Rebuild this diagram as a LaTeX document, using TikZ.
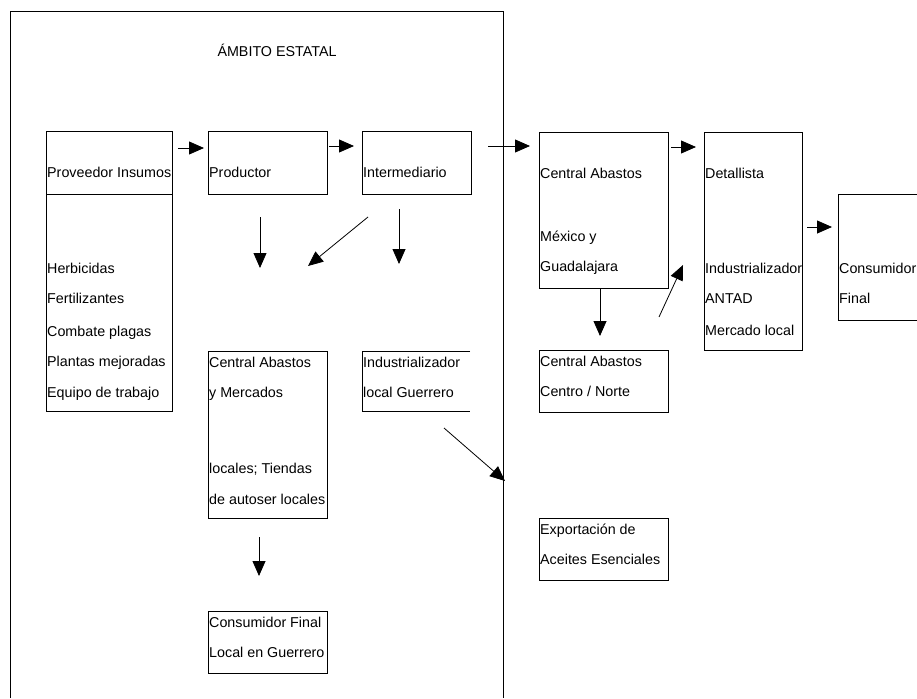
\documentclass[tikz,border=0pt]{standalone}
\usepackage{fontspec}
\setmainfont{Liberation Sans}
\usetikzlibrary{arrows.meta}
\begin{document}
\begin{tikzpicture}[x=1pt,y=-1pt,
  box/.style={draw, line width=0.8pt, inner sep=0pt, anchor=north west},
  txt/.style={anchor=west, inner sep=0pt, font=\fontsize{14.3}{16}\selectfont, text height=10pt, text depth=3pt, yshift=-1.5pt},
  arr/.style={line width=0.8pt, -{Triangle[length=15pt,width=13pt]}}]
\useasboundingbox (0,0) rectangle (917,698);
% frame
\draw[line width=0.8pt] (10,698) -- (10,11) -- (503,11) -- (503,698);
\node[txt, anchor=center] (title) at (277,52) {ÁMBITO ESTATAL};
% boxes
\node[box, minimum width=126pt, minimum height=63pt] (prov) at (46,131) {};
\node[box, minimum width=126pt, minimum height=217pt] (provlist) at (46,194) {};
\node[box, minimum width=119pt, minimum height=63pt] (prod) at (208,131) {};
\node[box, minimum width=109pt, minimum height=63pt] (inter) at (362,131) {};
\node[box, minimum width=119pt, minimum height=167pt] (cam) at (208,351) {};
\coordinate (indTR) at (470,351);
\coordinate (indTL) at (362,351);
\coordinate (indBL) at (362,411);
\coordinate (indBR) at (470,411);
\draw[line width=0.8pt] (indTR) -- (indTL) -- (indBL) -- (indBR);
\node[box, minimum width=119pt, minimum height=62pt] (cfl) at (208,611) {};
\node[box, minimum width=129pt, minimum height=156pt] (cab) at (539,132) {};
\node[box, minimum width=98pt, minimum height=218pt] (det) at (704,132) {};
\node[box, minimum width=78.5pt, minimum height=126pt] (cons) at (838,194) {};
\node[box, minimum width=129pt, minimum height=62pt] (can) at (539,350) {};
\node[box, minimum width=129pt, minimum height=62pt] (exp) at (539,518) {};
% texts
\node[txt] (t1) at (47,172) {Proveedor Insumos};
\node[txt] (t2) at (47,268) {Herbicidas};
\node[txt] (t3) at (47,298) {Fertilizantes};
\node[txt] (t4) at (47,331) {Combate plagas};
\node[txt] (t5) at (47,361) {Plantas mejoradas};
\node[txt] (t6) at (47,392) {Equipo de trabajo};
\node[txt] (t7) at (209,172) {Productor};
\node[txt] (t8) at (363,172) {Intermediario};
\node[txt] (t9) at (209,362) {Central Abastos};
\node[txt] (t10) at (209,392) {y Mercados};
\node[txt] (t11) at (209,468) {locales; Tiendas};
\node[txt] (t12) at (209,499) {de autoser locales};
\node[txt] (t13) at (363,362) {Industrializador};
\node[txt] (t14) at (363,392) {local Guerrero};
\node[txt] (t15) at (209,622) {Consumidor Final};
\node[txt] (t16) at (209,652) {Local en Guerrero};
\node[txt] (t17) at (540,173) {Central Abastos};
\node[txt] (t18) at (540,236) {México y};
\node[txt] (t19) at (540,266) {Guadalajara};
\node[txt] (t20) at (705,173) {Detallista};
\node[txt] (t21) at (705,268) {Industrializador};
\node[txt] (t22) at (705,298) {ANTAD};
\node[txt] (t23) at (705,330) {Mercado local};
\node[txt] (t24) at (839,268) {Consumidor};
\node[txt] (t25) at (839,298) {Final};
\node[txt] (t26) at (540,361) {Central Abastos};
\node[txt] (t27) at (540,391) {Centro / Norte};
\node[txt] (t28) at (540,529) {Exportación de};
\node[txt] (t29) at (540,559) {Aceites Esenciales};
% arrow end points
\coordinate (a1s) at (178,148); \coordinate (a1e) at (204,148);
\coordinate (a2s) at (329,146); \coordinate (a2e) at (354,146);
\coordinate (a3s) at (488,146); \coordinate (a3e) at (530,146);
\coordinate (d1s) at (260,217); \coordinate (d1e) at (260,268);
\coordinate (g1s) at (368,217); \coordinate (g1e) at (308,266);
\coordinate (d2s) at (399,209); \coordinate (d2e) at (399,264);
\coordinate (g2s) at (444,428); \coordinate (g2e) at (505,481);
\coordinate (d3s) at (259,537); \coordinate (d3e) at (259,576);
\coordinate (a4s) at (671,147); \coordinate (a4e) at (696,147);
\coordinate (a5s) at (807,227); \coordinate (a5e) at (832,227);
\coordinate (d4s) at (600,288); \coordinate (d4e) at (600,336);
\coordinate (u1s) at (659,317); \coordinate (u1e) at (683,265);
\draw[arr] (a1s) -- (a1e);
\draw[arr] (a2s) -- (a2e);
\draw[arr] (a3s) -- (a3e);
\draw[arr] (d1s) -- (d1e);
\draw[arr] (g1s) -- (g1e);
\draw[arr] (d2s) -- (d2e);
\draw[arr] (g2s) -- (g2e);
\draw[arr] (d3s) -- (d3e);
\draw[arr] (a4s) -- (a4e);
\draw[arr] (a5s) -- (a5e);
\draw[arr] (d4s) -- (d4e);
\draw[arr] (u1s) -- (u1e);
\end{tikzpicture}
\end{document}
